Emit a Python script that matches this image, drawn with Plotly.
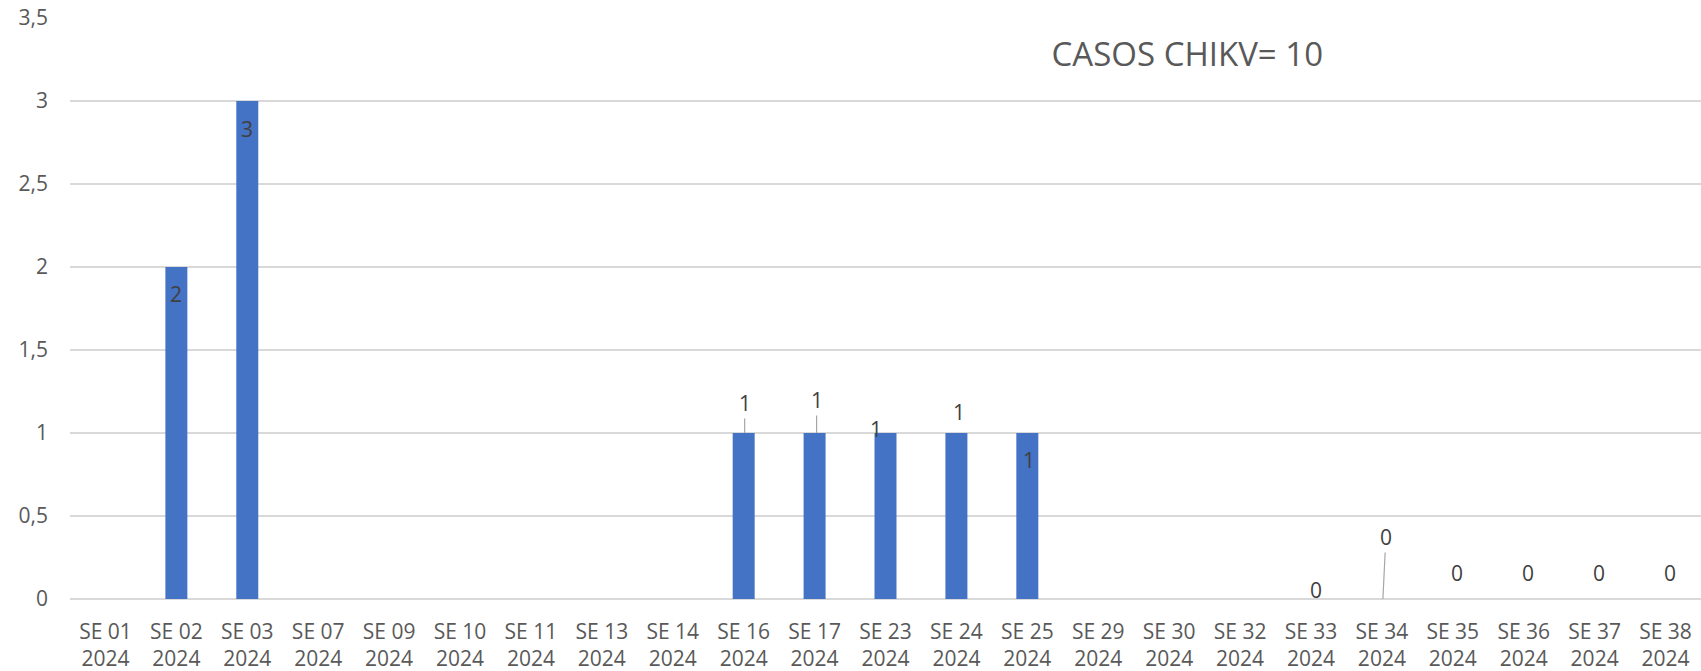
import plotly.graph_objects as go

# ---- data ----
weeks = ["SE 01", "SE 02", "SE 03", "SE 07", "SE 09", "SE 10", "SE 11", "SE 13",
         "SE 14", "SE 16", "SE 17", "SE 23", "SE 24", "SE 25", "SE 29", "SE 30",
         "SE 32", "SE 33", "SE 34", "SE 35", "SE 36", "SE 37", "SE 38"]
year = "2024"
cases = [0, 2, 3, 0, 0, 0, 0, 0, 0, 1, 1, 1, 1, 1, 0, 0, 0, 0, 0, 0, 0, 0, 0]
title_text = "CASOS CHIKV= 10"
y_ticks = [0, 0.5, 1, 1.5, 2, 2.5, 3, 3.5]

# weeks whose value label is shown in the original
labelled = ["SE 02", "SE 03", "SE 16", "SE 17", "SE 23", "SE 24", "SE 25",
            "SE 33", "SE 34", "SE 35", "SE 36", "SE 37", "SE 38"]

# ---- label placement styles (pixel offsets) ----
label_style = {
    "SE 02": dict(yshift=-27),
    "SE 03": dict(yshift=-28),
    "SE 16": dict(arrow=True, xshift=1, ax=0, ay=-30),
    "SE 17": dict(arrow=True, xshift=2, ax=0, ay=-33),
    "SE 23": dict(xshift=-10, yshift=4),
    "SE 24": dict(xshift=3, yshift=21),
    "SE 25": dict(xshift=2, yshift=-27),
    "SE 33": dict(xshift=5, yshift=9),
    "SE 34": dict(arrow=True, xshift=1, ax=3, ay=-62),
    "SE 35": dict(xshift=4, yshift=26),
    "SE 36": dict(xshift=4, yshift=26),
    "SE 37": dict(xshift=4, yshift=26),
    "SE 38": dict(xshift=4, yshift=26),
}

cats = [f"{w}<br>{year}" for w in weeks]

fig = go.Figure()
fig.add_trace(go.Bar(
    x=cats, y=cases,
    marker=dict(color="#4472C4", line=dict(width=0)),
    hoverinfo="x+y",
))

font_family = "Open Sans"
annotations = []
for w in labelled:
    i = weeks.index(w)
    st = label_style[w]
    a = dict(x=cats[i], y=cases[i], xref="x", yref="y",
             text=str(cases[i]),
             font=dict(family=font_family, size=21, color="#404040"),
             xshift=st.get("xshift", 0), yshift=st.get("yshift", 0))
    if st.get("arrow"):
        a.update(showarrow=True, arrowhead=0, arrowwidth=1.2, arrowcolor="#A6A6A6",
                 ax=st["ax"], ay=st["ay"], standoff=0, startstandoff=0)
    else:
        a.update(showarrow=False, xanchor="center", yanchor="middle")
    annotations.append(a)

fig.update_layout(
    width=1701, height=671,
    margin=dict(l=70, r=0, t=18, b=72),
    paper_bgcolor="white", plot_bgcolor="white",
    separators=",.",
    bargap=0.69,
    showlegend=False,
    title=dict(text=title_text, x=0.698, xanchor="center", y=1 - 54 / 671,
               yanchor="middle", xref="container", yref="container",
               font=dict(family=font_family, size=33, color="#595959")),
    annotations=annotations,
    xaxis=dict(type="category", showgrid=False, zeroline=False, showline=False,
               ticks="", tickfont=dict(family=font_family, size=21, color="#595959"),
               ticklabelstandoff=18),
    yaxis=dict(range=[0, 3.5], tickvals=y_ticks, showgrid=True, gridcolor="#D9D9D9",
               gridwidth=1.5, zeroline=True, zerolinecolor="#D9D9D9", zerolinewidth=1.5,
               showline=False, ticks="",
               tickfont=dict(family=font_family, size=21, color="#595959"),
               ticklabelstandoff=21),
)

fig.write_html(
    "out.html",
    config={"displayModeBar": False},
    post_script="document.body.style.margin='0';document.body.style.overflow='hidden';",
)
